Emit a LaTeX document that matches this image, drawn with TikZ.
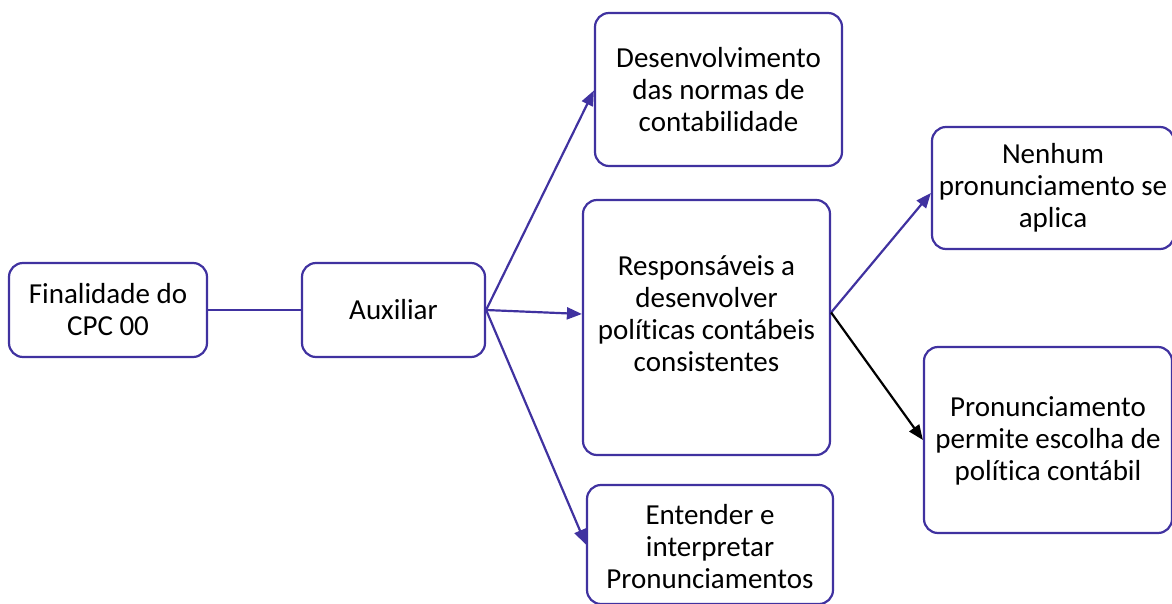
\documentclass[tikz,border=0pt]{standalone}
\usepackage{fontspec}
\setmainfont{Carlito}[Ligatures=NoCommon]
\usetikzlibrary{arrows.meta}
\definecolor{pur}{RGB}{64,50,160}
\begin{document}
\begin{tikzpicture}[x=1pt,y=-1pt,
  box/.style={draw=pur, line width=2.2pt, rounded corners=14pt, fill=white, inner sep=0pt},
  txt/.style={align=center, inner sep=0pt, font=\fontsize{29}{32}\selectfont},
  arr/.style={draw=pur, line width=2.2pt, -{Triangle[length=15pt,width=12pt]}},
  arrk/.style={draw=black, line width=2.2pt, -{Triangle[length=15pt,width=12pt]}},
]
\useasboundingbox (0,0) rectangle (1172,604);
\node[box, minimum width=198pt, minimum height=94pt] (A) at (108,310) {};
\node[txt] (At) at (108,310) {Finalidade do\\CPC 00};
\node[box, minimum width=183pt, minimum height=94pt] (B) at (393.5,310) {};
\node[txt] (Bt) at (393.5,310) {Auxiliar};
\node[box, minimum width=247pt, minimum height=153pt] (C) at (718.5,89.5) {};
\node[txt] (Ct) at (718.5,89.5) {Desenvolvimento\\das normas de\\contabilidade};
\node[box, minimum width=247pt, minimum height=255pt] (D) at (706.5,327.5) {};
\node[txt] (Dt) at (706.5,314) {Responsáveis a\\desenvolver\\políticas contábeis\\consistentes};
\node[box, minimum width=246pt, minimum height=119pt] (E) at (710,544.5) {};
\node[txt] (Et) at (710,547) {Entender e\\interpretar\\Pronunciamentos};
\node[box, minimum width=242pt, minimum height=122pt] (F) at (1053,188) {};
\node[txt] (Ft) at (1053,188) {Nenhum\\pronunciamento se\\aplica};
\node[box, minimum width=248pt, minimum height=186pt] (G) at (1048,440) {};
\node[txt] (Gt) at (1048,441) {Pronunciamento\\permite escolha de\\política contábil};

\draw[draw=pur, line width=2.2pt] (A.east) -- (B.west);
\draw[arr] (B.east) -- ([yshift=-1pt]C.west);
\draw[arr] (B.east) -- ([yshift=13.5pt]D.west);
\draw[arr] (B.east) -- (E.west);
\draw[arr] ([yshift=15pt]D.east) -- ([yshift=-5pt]F.west);
\draw[arrk] ([yshift=15pt]D.east) -- (G.west);
\end{tikzpicture}
\end{document}
